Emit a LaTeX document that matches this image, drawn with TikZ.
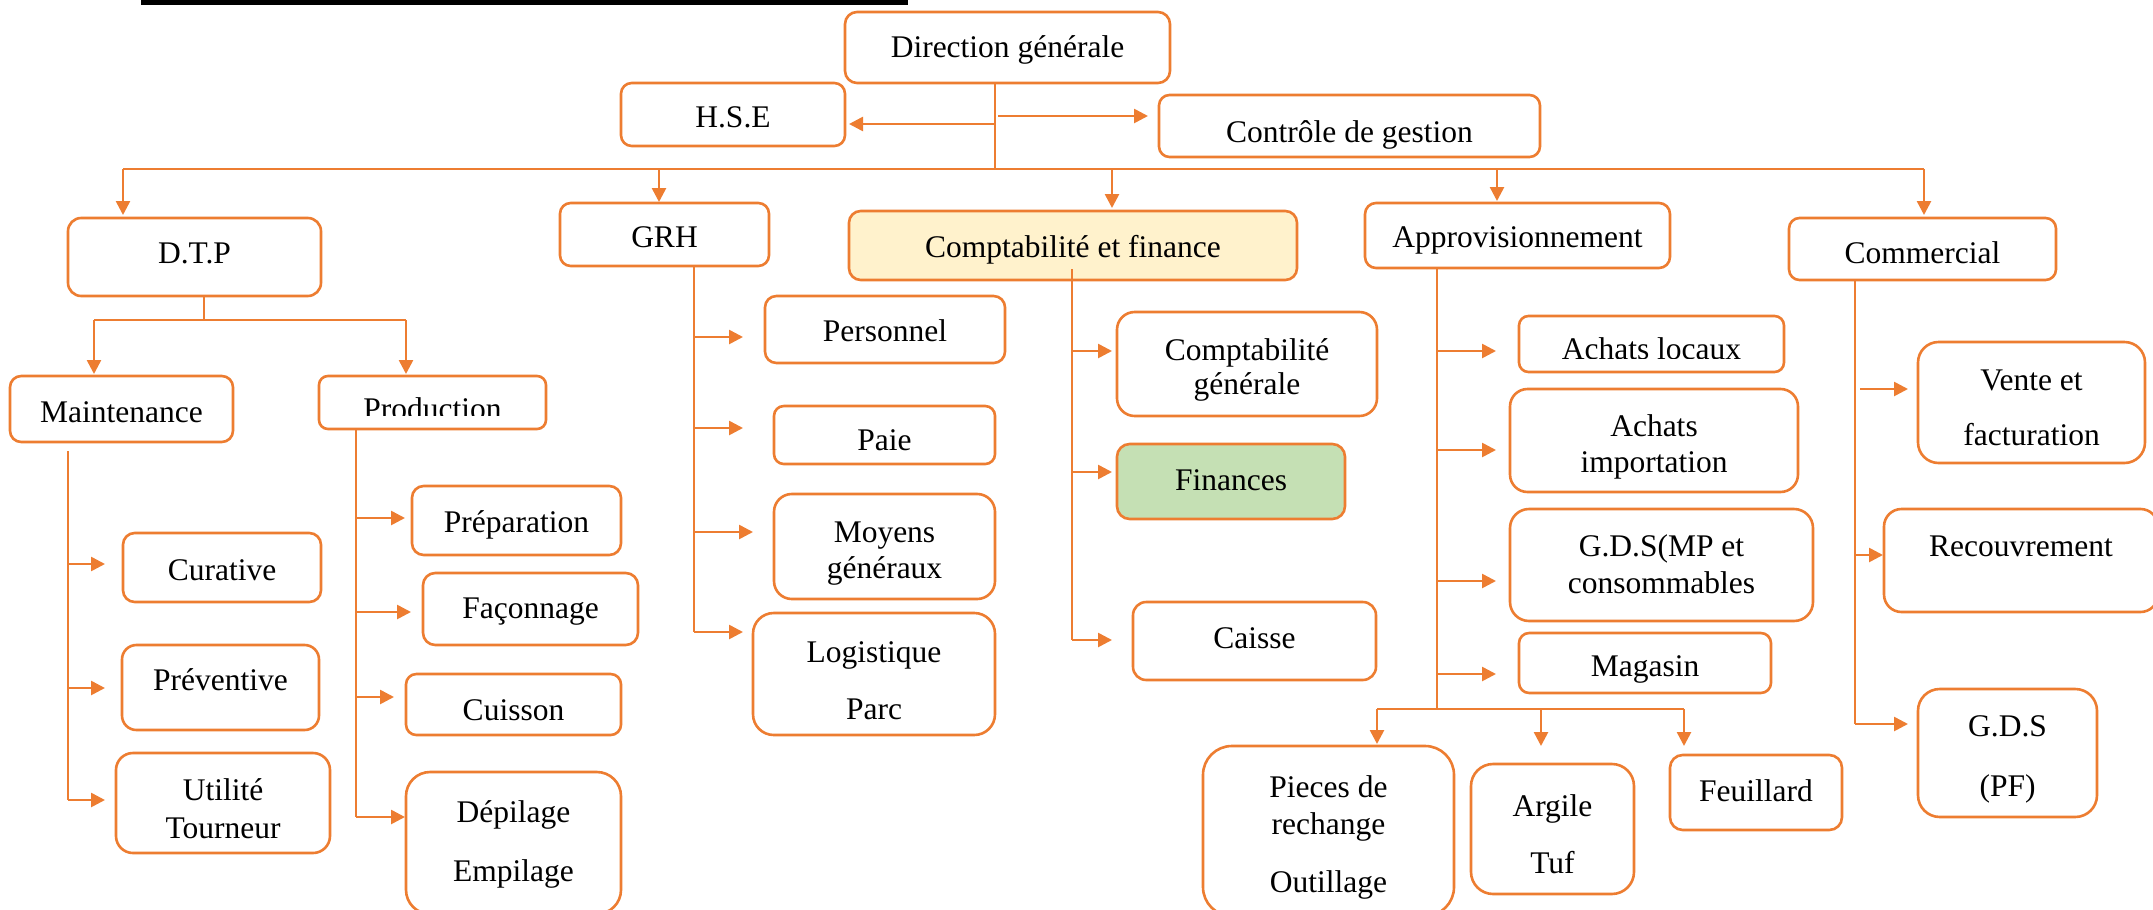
\documentclass[tikz,border=0pt]{standalone}
\usepackage{fontspec}
\setmainfont{Liberation Serif}
\usetikzlibrary{arrows.meta}
\definecolor{org}{HTML}{ED7D31}
\definecolor{cfyel}{HTML}{FFF2CC}
\definecolor{fingreen}{HTML}{C5E0B4}

\tikzset{
  box/.style={draw=org, line width=2.6pt, fill=white, inner sep=0pt, outer sep=0pt},
  lbl/.style={font=\fontsize{31.5}{38}\selectfont, inner sep=0pt, anchor=mid, text=black},
  ln/.style={draw=org, line width=2.6pt},
  arr/.style={ln, -{Triangle[length=14pt,width=14pt]}},
}

% \obox[style]{name}{x1}{y1}{x2}{y2}{text clip bottom}{y/line,...}
\newcommand\obox[8][]{%
  \pgfmathsetmacro\obr{0.17*min(#6-#4,#5-#3)}%
  \pgfmathsetmacro\obx{(#3+#5)/2}%
  \node[box,rounded corners=\obr pt,minimum width=#5pt-#3pt,minimum height=#6pt-#4pt,#1] (#2) at (\obx,{(#4+#6)/2}) {};%
  \begin{scope}
    \clip (#3,#4) rectangle (#5,#7);
    \foreach \oby/\obt [count=\obk] in {#8} {\node[lbl] (#2-\obk) at (\obx,\oby) {\obt};}
  \end{scope}%
}

% side arrows from a vertical trunk at x=#1: name/y/gap
\newcommand\branch[2]{%
  \foreach \bn/\by/\bs in {#2}{%
    \coordinate (j-\bn) at (#1,\by);
    \draw[arr,shorten >=\bs pt] (j-\bn) -- (j-\bn -| \bn.west);
  }%
}

\begin{document}
\begin{tikzpicture}[x=1pt,y=-1pt]
\useasboundingbox (0,0) rectangle (2153,910);
\fill[white] (0,0) rectangle (2153,910);
% underline of the heading
\fill[black] (141,0) rectangle (908,5);

% ---- top level
\obox{dg}{845}{12}{1170}{83}{83}{55/Direction générale}
\obox{hse}{621}{83}{845}{146}{146}{125/H.S.E}
\obox{cg}{1159}{95}{1540}{157}{157}{140/Contrôle de gestion}

% ---- departments
\obox{dtp}{68}{218}{321}{296}{296}{261/D.T.P}
\obox{grh}{560}{203}{769}{266}{266}{245/GRH}
\obox[fill=cfyel]{cf}{849}{211}{1297}{280}{280}{255/Comptabilité et finance}
\obox{app}{1365}{203}{1670}{268}{268}{245/Approvisionnement}
\obox{com}{1789}{218}{2056}{280}{280}{261/Commercial}

% ---- D.T.P
\obox{mnt}{10}{376}{233}{442}{442}{420/Maintenance}
\obox{prd}{319}{376}{546}{429}{415}{417/Production}
\obox{cur}{123}{533}{321}{602}{602}{578/Curative}
\obox{prv}{122}{645}{319}{730}{730}{688/Préventive}
\obox{utl}{116}{753}{330}{853}{853}{798/Utilité,836/Tourneur}
\obox{prp}{412}{486}{621}{555}{555}{530/Préparation}
\obox{fac}{423}{573}{638}{645}{645}{616/Façonnage}
\obox{cui}{406}{674}{621}{735}{735}{718/Cuisson}
\obox{dep}{406}{772}{621}{914}{914}{820/Dépilage,879/Empilage}

% ---- GRH
\obox{per}{765}{296}{1005}{363}{363}{339/Personnel}
\obox{pai}{774}{406}{995}{464}{464}{448/Paie}
\obox{moy}{774}{494}{995}{599}{599}{540/Moyens,576/généraux}
\obox{log}{753}{613}{995}{735}{735}{660/Logistique,717/Parc}

% ---- Comptabilité et finance
\obox{cpg}{1117}{312}{1377}{416}{416}{358/Comptabilité,392/générale}
\obox[fill=fingreen]{fin}{1117}{444}{1345}{519}{519}{488/Finances}
\obox{cai}{1133}{602}{1376}{680}{680}{646/Caisse}

% ---- Approvisionnement
\obox{acl}{1519}{316}{1784}{372}{358}{357/Achats locaux}
\obox{aci}{1510}{389}{1798}{492}{492}{434/Achats,470/importation}
\obox{gds}{1510}{509}{1813}{621}{621}{554/G.D.S(MP et,591/consommables}
\obox{mag}{1519}{633}{1771}{693}{693}{674/Magasin}
\obox{pie}{1203}{746}{1454}{916}{916}{795/Pieces de,832/rechange,890/Outillage}
\obox{arg}{1471}{764}{1634}{894}{894}{814/Argile,871/Tuf}
\obox{feu}{1670}{755}{1842}{830}{830}{799/Feuillard}

% ---- Commercial
\obox{vte}{1918}{342}{2145}{463}{463}{388/Vente et,443/facturation}
\obox{rec}{1884}{509}{2158}{612}{612}{554/Recouvrement}
\obox{gpf}{1918}{689}{2097}{817}{817}{734/G.D.S,794/(PF)}

% ---- connectors: general direction
\coordinate (dgT) at (995,83);
\coordinate (busL) at (123,169);
\coordinate (busR) at (1924,169);
\draw[ln] (dgT) -- (dgT |- busL);
\draw[ln] (busL) -- (busR);
\coordinate (hseJ) at (995,124);
\coordinate (cgJ) at (998,116);
\draw[arr,shorten >=4pt] (hseJ) -- (hseJ -| hse.east);
\draw[arr,shorten >=11pt] (cgJ) -- (cgJ -| cg.west);
\foreach \dn/\dx/\ds in {dtp/123/3,grh/659/1,cf/1112/3,app/1497/2,com/1924/3}{
  \coordinate (b-\dn) at (\dx,169);
  \draw[arr,shorten >=\ds pt] (b-\dn) -- (b-\dn |- \dn.north);
}

% ---- D.T.P
\coordinate (dtpT) at (204,296);
\coordinate (dtpB) at (204,320);
\coordinate (mntJ) at (94,320);
\coordinate (prdJ) at (406,320);
\draw[ln] (dtpT) -- (dtpB);
\draw[ln] (mntJ) -- (prdJ);
\draw[arr,shorten >=2pt] (mntJ) -- (mntJ |- mnt.north);
\draw[arr,shorten >=2pt] (prdJ) -- (prdJ |- prd.north);

\branch{68}{cur/564/18,prv/688/17,utl/800/11}
\coordinate (mntS) at (68,451);
\draw[ln] (mntS) -- (j-utl);

\branch{356}{prp/518/7,fac/612/12,cui/697/12,dep/817/1}
\coordinate (prdS) at (356,429);
\draw[ln] (prdS) -- (j-dep);

% ---- GRH
\branch{694}{per/337/22,pai/428/31,moy/532/21,log/632/10}
\coordinate (grhS) at (694,266);
\draw[ln] (grhS) -- (j-log);

% ---- Comptabilité et finance
\branch{1072}{cpg/351/5,fin/472/5,cai/640/21}
\coordinate (cfS) at (1072,269);
\draw[ln] (cfS) -- (j-cai);

% ---- Approvisionnement
\branch{1437}{acl/351/23,aci/450/14,gds/581/14,mag/674/23}
\coordinate (appS) at (1437,268);
\coordinate (appE) at (1437,709);
\draw[ln] (appS) -- (appE);
\coordinate (pieJ) at (1377,709);
\coordinate (argJ) at (1541,709);
\coordinate (feuJ) at (1684,709);
\draw[ln] (pieJ) -- (feuJ);
\draw[arr,shorten >=2pt] (pieJ) -- (pieJ |- pie.north);
\draw[arr,shorten >=18pt] (argJ) -- (argJ |- arg.north);
\draw[arr,shorten >=9pt] (feuJ) -- (feuJ |- feu.north);

% ---- Commercial
\coordinate (vteJ) at (1855,389);
\draw[arr,shorten <=5pt,shorten >=10pt] (vteJ) -- (vteJ -| vte.west);
\branch{1855}{rec/555/1,gpf/724/10}
\coordinate (comS) at (1855,280);
\draw[ln] (comS) -- (j-gpf);
\end{tikzpicture}
\end{document}
